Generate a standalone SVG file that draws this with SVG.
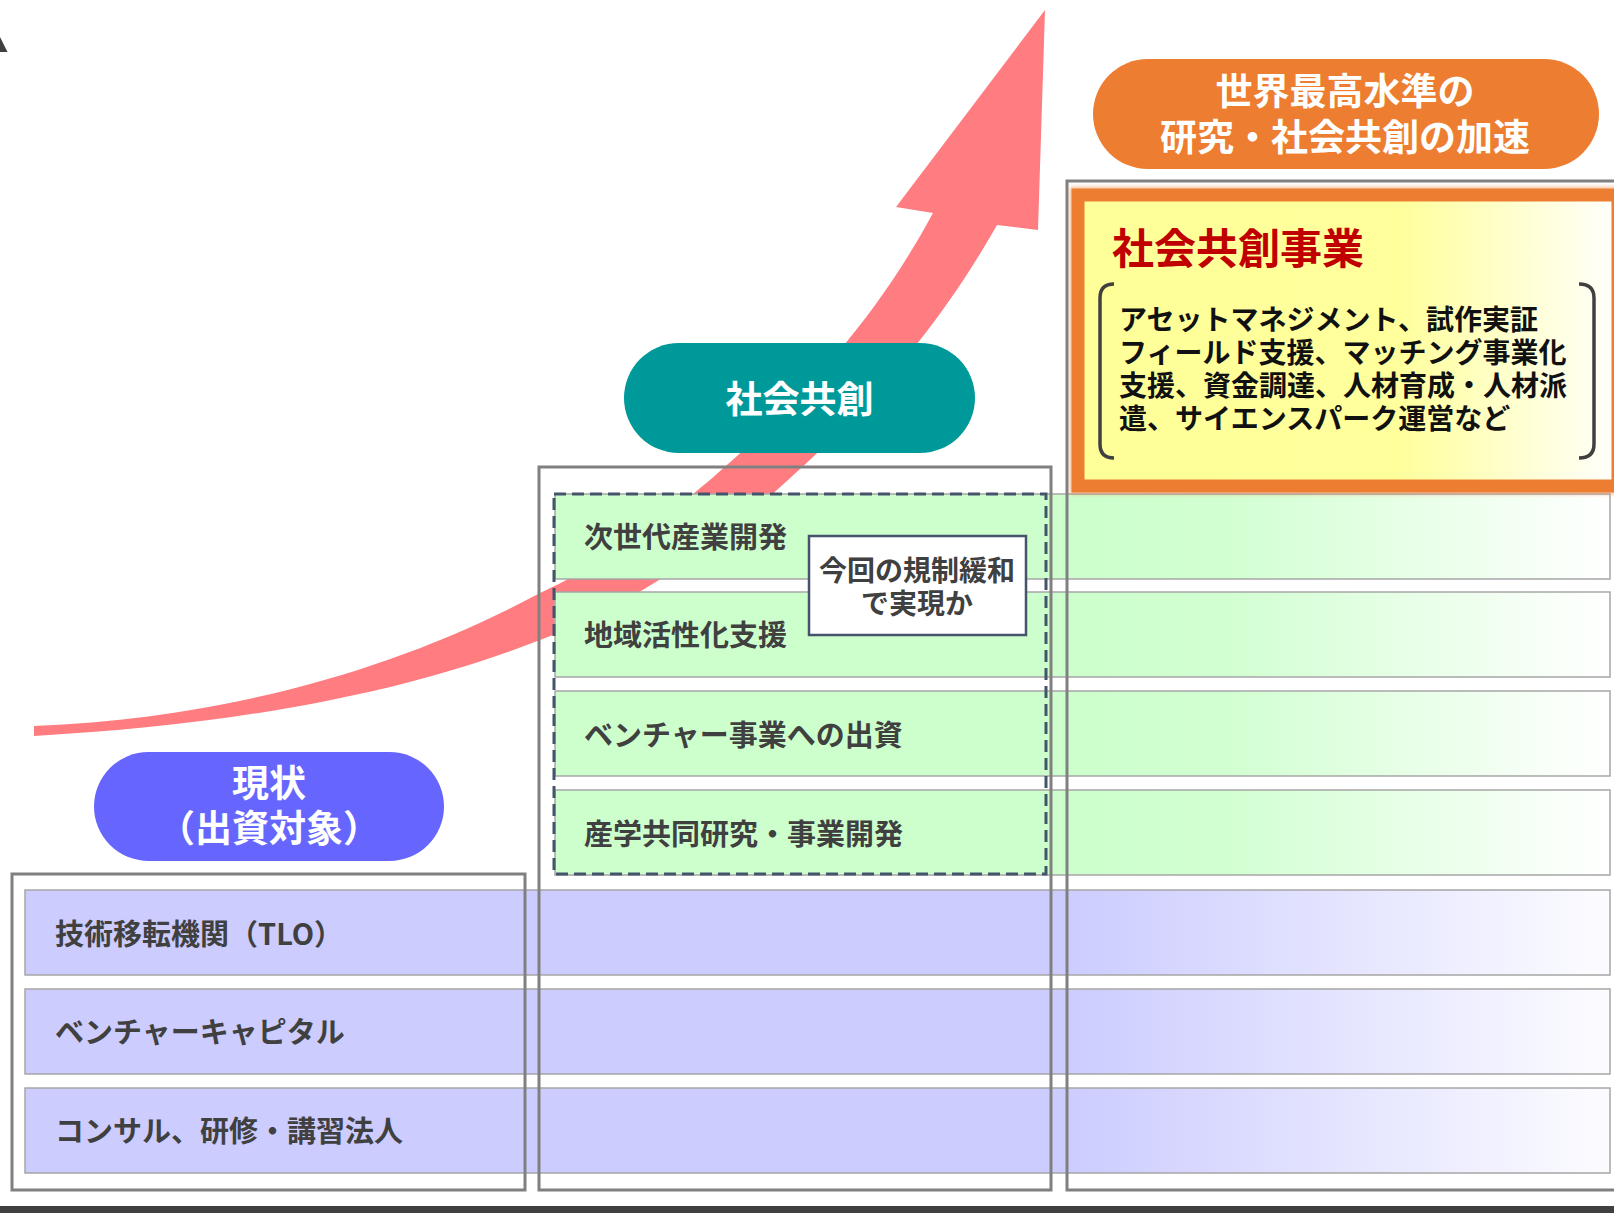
<svg xmlns="http://www.w3.org/2000/svg" width="1614" height="1213" viewBox="0 0 1614 1213">
<defs>
<linearGradient id="gPurple" gradientUnits="userSpaceOnUse" x1="1066" y1="0" x2="1610" y2="0">
<stop offset="0" stop-color="#ccccff"/><stop offset="1" stop-color="#fcfcff"/>
</linearGradient>
<linearGradient id="gGreen" gradientUnits="userSpaceOnUse" x1="1066" y1="0" x2="1610" y2="0">
<stop offset="0" stop-color="#ccffcc"/><stop offset="0.3" stop-color="#d2ffd2"/><stop offset="1" stop-color="#ffffff"/>
</linearGradient>
<linearGradient id="gYellow" gradientUnits="userSpaceOnUse" x1="1085" y1="0" x2="1607" y2="0">
<stop offset="0" stop-color="#ffff99"/><stop offset="0.6" stop-color="#ffff9c"/><stop offset="1" stop-color="#fffff8"/>
</linearGradient>
<filter id="glow" x="-5%" y="-5%" width="110%" height="110%">
<feGaussianBlur stdDeviation="2"/>
</filter>
</defs>
<style>
.t{font-family:'Noto Sans CJK JP','Noto Sans',sans-serif;font-weight:700}
.lbl{font-size:29px;fill:#404040}
.box{fill:none;stroke:#808080;stroke-width:3}
.pbar{fill:url(#gPurple);stroke:#a6a6a6;stroke-width:1.5}
.gbar{fill:url(#gGreen);stroke:#a6a6a6;stroke-width:1.5}
.pilltxt{font-size:37px;fill:#ffffff;text-anchor:middle}
.body{font-size:28px;fill:#111111}
.brk{fill:none;stroke:#404040;stroke-width:3.5}
</style>
<rect width="1614" height="1213" fill="#ffffff"/>
<polygon points="0,37 7.5,52 0,52" fill="#404040"/>
<rect x="0" y="1206" width="1614" height="7" fill="#404040"/>

<g id="connectors">
<path d="M1045,10 L1038,230 L997,225 C960,290 900,380 788,480 C700,560 620,610 540,640 C400,695 230,725 34,736 L34,726 C230,718 400,668 540,593 C600,566 650,530 710,480 C790,410 870,330 933,213 L896,207 Z" fill="#ff7c80"/>
</g>

<g id="bars-purple">
<rect class="pbar" x="25" y="890" width="1585" height="85"/>
<rect class="pbar" x="25" y="989" width="1585" height="85"/>
<rect class="pbar" x="25" y="1088" width="1585" height="85"/>
</g>
<g id="bars-green">
<rect class="gbar" x="555" y="494" width="1055" height="85"/>
<rect class="gbar" x="555" y="592" width="1055" height="85"/>
<rect class="gbar" x="555" y="691" width="1055" height="85"/>
<rect class="gbar" x="555" y="790" width="1055" height="85"/>
</g>

<g id="dashed-group">
<rect x="554" y="494" width="492" height="380" fill="none" stroke="#44546a" stroke-width="3" stroke-dasharray="12 6"/>
</g>

<g id="frame-current"><rect class="box" x="12" y="874" width="513" height="316"/></g>
<g id="frame-cocreation"><rect class="box" x="539" y="467" width="512" height="723"/></g>
<g id="frame-accel"><rect class="box" x="1067" y="181" width="600" height="1009"/></g>

<g id="node-business">
<rect x="1078" y="195" width="540" height="291" fill="none" stroke="#ed7d31" stroke-width="16" opacity="0.5" filter="url(#glow)"/>
<rect x="1078" y="195" width="540" height="291" fill="url(#gYellow)" stroke="#ed7d31" stroke-width="13"/>
<text class="t" x="1112" y="264" font-size="42" fill="#c00000">社会共創事業</text>
<path class="brk" d="M1114,284 Q1100,284 1100,298 L1100,444 Q1100,458 1114,458"/>
<path class="brk" d="M1579,284 Q1594,284 1594,298 L1594,444 Q1594,458 1579,458"/>
<text class="t body" x="1119" y="330">アセットマネジメント、試作実証</text>
<text class="t body" x="1119" y="363">フィールド支援、マッチング事業化</text>
<text class="t body" x="1119" y="396">支援、資金調達、人材育成・人材派</text>
<text class="t body" x="1119" y="429">遣、サイエンスパーク運営など</text>
</g>

<g id="node-callout">
<rect x="809" y="536" width="217" height="99" fill="#ffffff" stroke="#44546a" stroke-width="2.5"/>
<text class="t" x="917" y="581" font-size="28" fill="#404040" text-anchor="middle">今回の規制緩和</text>
<text class="t" x="917" y="614" font-size="28" fill="#404040" text-anchor="middle">で実現か</text>
</g>

<g id="node-goal">
<rect x="1093" y="59" width="506" height="110" rx="55" fill="#ed7d31"/>
<text class="t pilltxt" x="1345" y="105">世界最高水準の</text>
<text class="t pilltxt" x="1345" y="151">研究・社会共創の加速</text>
</g>
<g id="node-cocreation">
<rect x="624" y="343" width="351" height="110" rx="55" fill="#009999"/>
<text class="t pilltxt" x="799.5" y="413">社会共創</text>
</g>
<g id="node-current">
<rect x="94" y="752" width="350" height="109" rx="54.5" fill="#6666ff"/>
<text class="t pilltxt" x="269" y="797" font-size="36">現状</text>
<text class="t pilltxt" x="269" y="842" font-size="36">（出資対象）</text>
</g>

<g id="labels-purple">
<text class="t lbl" x="55" y="945">技術移転機関（TLO）</text>
<text class="t lbl" x="55" y="1043">ベンチャーキャピタル</text>
<text class="t lbl" x="55" y="1142">コンサル、研修・講習法人</text>
</g>
<g id="labels-green">
<text class="t lbl" x="584" y="548">次世代産業開発</text>
<text class="t lbl" x="584" y="646">地域活性化支援</text>
<text class="t lbl" x="584" y="746">ベンチャー事業への出資</text>
<text class="t lbl" x="584" y="845">産学共同研究・事業開発</text>
</g>
</svg>
